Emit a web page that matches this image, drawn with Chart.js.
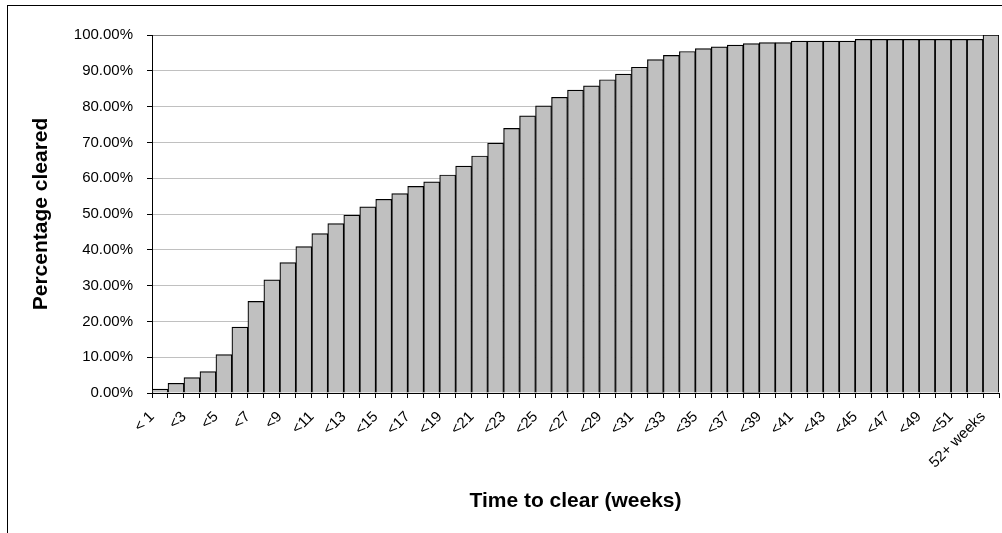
<!DOCTYPE html>
<html>
<head>
<meta charset="utf-8">
<script src="https://cdn.jsdelivr.net/npm/chart.js@4.4.0/dist/chart.umd.min.js"></script>
<style>
    html, body { margin: 0; padding: 0; background: #fff; overflow: hidden; }
    #wrap { position: relative; width: 1002px; height: 533px; }
    #frame {
        position: absolute; left: 7px; top: 5px; width: 1100px; height: 600px;
        border-left: 1.5px solid #000; border-top: 1.5px solid #000;
    }
    #chart { position: absolute; left: 0; top: 0; }
</style>
</head>
<body>
<div id="wrap">
    <div id="frame"></div>
    <canvas id="chart" width="1002" height="533"></canvas>
</div>
<script>
const WEEK_LABELS = [
    '< 1', '<2', '<3', '<4', '<5', '<6', '<7', '<8', '<9', '<10',
    '<11', '<12', '<13', '<14', '<15', '<16', '<17', '<18', '<19', '<20',
    '<21', '<22', '<23', '<24', '<25', '<26', '<27', '<28', '<29', '<30',
    '<31', '<32', '<33', '<34', '<35', '<36', '<37', '<38', '<39', '<40',
    '<41', '<42', '<43', '<44', '<45', '<46', '<47', '<48', '<49', '<50',
    '<51', '<52', '52+ weeks'
];

// cumulative % cleared
const PCT_CLEARED = [
    1.1, 2.7, 4.3, 6.0, 10.7, 18.4, 25.6, 31.6, 36.4, 40.9,
    44.5, 47.3, 49.7, 52.0, 54.1, 55.7, 57.7, 59.0, 60.9, 63.4,
    66.2, 69.8, 73.9, 77.4, 80.2, 82.6, 84.6, 85.8, 87.5, 89.1,
    91.0, 93.1, 94.3, 95.4, 96.2, 96.7, 97.2, 97.6, 97.9, 97.9,
    98.3, 98.3, 98.3, 98.3, 98.8, 98.8, 98.8, 98.8, 98.8, 98.8,
    98.8, 98.8, 100
];

const Y_MIN = 0;
const Y_MAX = 100;
const Y_STEP = 10;

const FONT = '"Liberation Sans", Arial, sans-serif';

function renderChart() {
    const canvas = document.getElementById('chart');
    if (!canvas) return;

    new Chart(canvas, {
        type: 'bar',
        data: {
            labels: WEEK_LABELS,
            datasets: [{
                label: 'Percentage cleared',
                data: PCT_CLEARED,
                backgroundColor: '#c0c0c0',
                borderColor: '#000000',
                borderWidth: 1.2,
                categoryPercentage: 1.0,
                barPercentage: 1.0
            }]
        },
        options: {
            responsive: false,
            animation: false,
            layout: {
                padding: { left: 8, right: 3, top: 35, bottom: 0 }
            },
            plugins: {
                legend: { display: false },
                tooltip: { enabled: false }
            },
            scales: {
                x: {
                    afterFit: (scale) => {
                        scale.height = 140;
                        // keep the plot running out to the right edge like the original
                        scale.paddingLeft = 0;
                        scale.paddingRight = 0;
                    },
                    grid: {
                        drawOnChartArea: false,
                        tickLength: 5,
                        tickColor: '#000'
                    },
                    border: { color: '#000', width: 1 },
                    ticks: {
                        autoSkip: false,
                        minRotation: 45,
                        maxRotation: 45,
                        padding: 10,
                        labelOffset: -8,
                        color: '#000',
                        font: { family: FONT, size: 15 },
                        callback: function(value, index) {
                            return index % 2 === 0 ? this.getLabelForValue(value) : '';
                        }
                    },
                    title: {
                        display: true,
                        text: 'Time to clear (weeks)',
                        color: '#000',
                        font: { family: FONT, size: 21, weight: 'bold' },
                        padding: { top: 0, bottom: 19 }
                    }
                },
                y: {
                    min: Y_MIN,
                    max: Y_MAX,
                    afterFit: (scale) => { scale.width = 144; },
                    grid: {
                        color: (ctx) => ctx.tick && ctx.tick.value === Y_MAX ? '#808080' : '#c0c0c0',
                        tickLength: 5,
                        tickColor: '#000'
                    },
                    border: { color: '#000', width: 1 },
                    ticks: {
                        stepSize: Y_STEP,
                        padding: 14,
                        color: '#000',
                        font: { family: FONT, size: 15 },
                        callback: (value) => value.toFixed(2) + '%'
                    },
                    title: {
                        display: true,
                        text: 'Percentage cleared',
                        color: '#000',
                        font: { family: FONT, size: 21, weight: 'bold' },
                        padding: { top: 21, bottom: 0 }
                    }
                }
            }
        }
    });
}

renderChart();
</script>
</body>
</html>
